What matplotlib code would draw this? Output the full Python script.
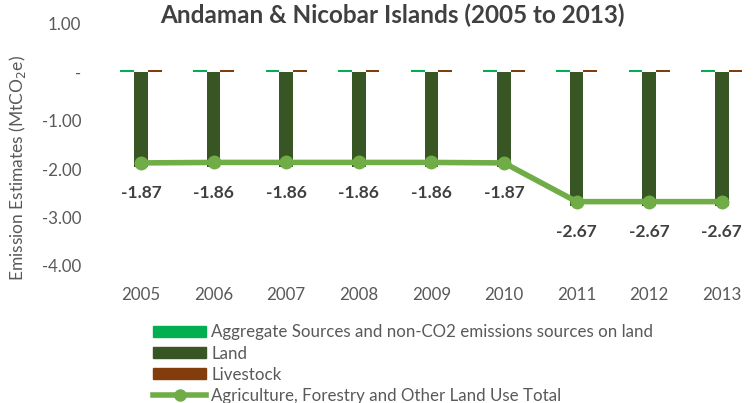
import numpy as np
import matplotlib
matplotlib.use('Agg')
from matplotlib import pyplot as plt
from matplotlib.patches import Patch
from matplotlib.lines import Line2D

plt.rcParams['font.family'] = ['Lato', 'DejaVu Sans']

#%% Datos

years = ['2005', '2006', '2007', '2008', '2009', '2010', '2011', '2012', '2013']
aggregate = [0.05, 0.05, 0.05, 0.05, 0.05, 0.05, 0.05, 0.05, 0.05]
land = [-1.96, -1.95, -1.95, -1.95, -1.95, -1.96, -2.76, -2.76, -2.76]
livestock = [0.04, 0.04, 0.04, 0.04, 0.04, 0.04, 0.04, 0.04, 0.04]
total = [-1.87, -1.86, -1.86, -1.86, -1.86, -1.87, -2.67, -2.67, -2.67]

c_agg = '#00B050'
c_land = '#375623'
c_live = '#833C0B'
c_tot = '#70AD47'
c_txt = '#595959'

#%% Grafico

fig = plt.figure(figsize=(7.55, 4.03), dpi=100)
ax = fig.add_axes([104.7/755, 1-266/403, 653.4/755, 242/403])

x = np.arange(len(years))
w = 0.19
ax.bar(x - w, aggregate, w, color=c_agg)
ax.bar(x, land, w, color=c_land)
ax.bar(x + w, livestock, w, color=c_live)
ax.plot(x, total, '-o', color=c_tot, linewidth=4, markersize=9)

for xi, v in zip(x, total):
    ax.annotate('%.2f' % v, (xi, v), xytext=(0, -22), textcoords='offset points',
                ha='center', va='center', fontsize=12.5, weight='bold', color='#404040')

ax.set_xlim(-0.5, len(years) - 0.5)
ax.set_ylim(-4, 1)
ax.set_yticks([1, 0, -1, -2, -3, -4])
ax.set_yticklabels(['1.00', '-', '-1.00', '-2.00', '-3.00', '-4.00'])
ax.set_xticks(x)
ax.set_xticklabels(years)
ax.tick_params(length=0, labelsize=12.2, colors=c_txt)
ax.tick_params(axis='x', pad=15)
ax.tick_params(axis='y', pad=17)
for s in ax.spines.values():
    s.set_visible(False)

fig.text(18/755, 1-168/403, 'Emission Estimates (MtCO$_2$e)', rotation=90,
         ha='center', va='center', fontsize=12.5, color=c_txt)
fig.text(392/755, 1-15/403, 'Andaman & Nicobar Islands (2005 to 2013)',
         ha='center', va='center', fontsize=17.5, weight='bold', color='#404040')

handles = [Patch(color=c_agg), Patch(color=c_land), Patch(color=c_live),
           Line2D([], [], color=c_tot, linewidth=4, marker='o', markersize=8)]
labels = ['Aggregate Sources and non-CO2 emissions sources on land', 'Land',
          'Livestock', 'Agriculture, Forestry and Other Land Use Total']
fig.legend(handles, labels, loc='upper left', bbox_to_anchor=(145/755, 1-316/403),
           frameon=False, fontsize=12.2, labelcolor=c_txt, handlelength=3.1,
           handleheight=0.6, handletextpad=0.3, labelspacing=0.3, borderpad=0)

fig.savefig('out.png', dpi=100)
